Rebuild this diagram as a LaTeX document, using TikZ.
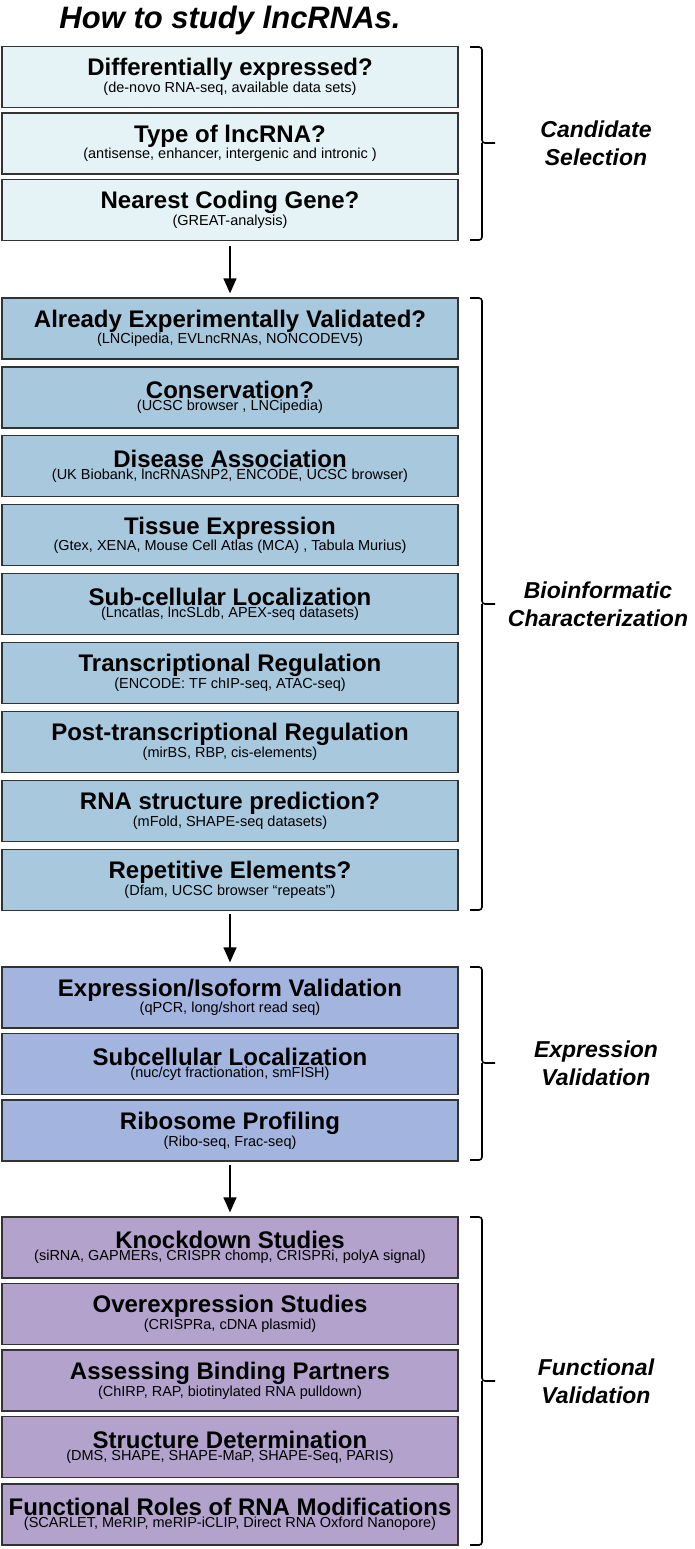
\documentclass[tikz,border=0pt]{standalone}
\usepackage{fontspec}
\setmainfont{Liberation Sans}
\usepackage{tikz}
\usetikzlibrary{positioning,arrows.meta}

\definecolor{candcol}{HTML}{E5F3F7}
\definecolor{bioicol}{HTML}{A8C8DE}
\definecolor{exprcol}{HTML}{A3B5DF}
\definecolor{funccol}{HTML}{B3A2CB}

\newcommand{\stepbox}[2]{\fontsize{24}{22}\selectfont\bfseries #1\\{\fontsize{14.5}{22}\selectfont\mdseries #2}}

\tikzset{
  stepnode/.style={rectangle,draw=black!80,line width=1.3pt,minimum width=456pt,minimum height=61pt,align=center,inner sep=0pt},
  cand/.style={stepnode,fill=candcol},
  bioi/.style={stepnode,fill=bioicol},
  expr/.style={stepnode,fill=exprcol},
  func/.style={stepnode,fill=funccol},
  flow/.style={line width=1.3pt,-{Triangle[width=13pt,length=15pt]}},
  brack/.style={line width=1.6pt,rounded corners=3pt},
  phase/.style={align=center,font=\fontsize{23}{28}\selectfont\bfseries\itshape}
}

\begin{document}
\begin{tikzpicture}[x=1pt,y=-1pt]
      \useasboundingbox (0,0) rectangle (694,1549);
      \node[font=\fontsize{31}{33}\selectfont\bfseries\itshape] (title) at (230,20) {How to study lncRNAs.};

      % Candidate selection
      \node[cand] (diffexp) at (230,77) {\stepbox{Differentially expressed?}{(de-novo RNA-seq, available data sets)}};
      \node[cand] (lnctype) at (230,143.5) {\stepbox{Type of lncRNA?}{(antisense, enhancer, intergenic and intronic )}};
      \node[cand] (neargene) at (230,210) {\stepbox{Nearest Coding Gene?}{(GREAT-analysis)}};

      % Bioinformatic characterization
      \node[bioi] (validated) at (230,328.5) {\stepbox{Already Experimentally Validated?}{(LNCipedia, EVLncRNAs, NONCODEV5)}};
      \node[bioi] (conserv) at (230,397.4) {\stepbox{Conservation?}{(UCSC browser , LNCipedia)}};
      \node[bioi] (disease) at (230,466.3) {\stepbox{Disease Association}{(UK Biobank, lncRNASNP2, ENCODE, UCSC browser)}};
      \node[bioi] (tissue) at (230,535.2) {\stepbox{Tissue Expression}{(Gtex, XENA, Mouse Cell Atlas (MCA) , Tabula Murius)}};
      \node[bioi] (subloc) at (230,604.1) {\stepbox{Sub-cellular Localization}{(Lncatlas, lncSLdb, APEX-seq datasets)}};
      \node[bioi] (transreg) at (230,673) {\stepbox{Transcriptional Regulation}{(ENCODE: TF chIP-seq, ATAC-seq)}};
      \node[bioi] (postreg) at (230,741.9) {\stepbox{Post-transcriptional Regulation}{(mirBS, RBP, cis-elements)}};
      \node[bioi] (structpred) at (230,810.8) {\stepbox{RNA structure prediction?}{(mFold, SHAPE-seq datasets)}};
      \node[bioi] (repeats) at (230,879.7) {\stepbox{Repetitive Elements?}{(Dfam, UCSC browser “repeats”)}};

      % Expression validation
      \node[expr] (isoform) at (230,997.5) {\stepbox{Expression/Isoform Validation}{(qPCR, long/short read seq)}};
      \node[expr] (subcell) at (230,1064) {\stepbox{Subcellular Localization}{(nuc/cyt fractionation, smFISH)}};
      \node[expr] (ribo) at (230,1130.5) {\stepbox{Ribosome Profiling}{(Ribo-seq, Frac-seq)}};

      % Functional validation
      \node[func] (knockdown) at (230,1247.5) {\stepbox{Knockdown Studies}{(siRNA, GAPMERs, CRISPR chomp, CRISPRi, polyA signal)}};
      \node[func] (overexp) at (230,1314) {\stepbox{Overexpression Studies}{(CRISPRa, cDNA plasmid)}};
      \node[func] (binding) at (230,1380.5) {\stepbox{Assessing Binding Partners}{(ChIRP, RAP, biotinylated RNA pulldown)}};
      \node[func] (structdet) at (230,1447) {\stepbox{Structure Determination}{(DMS, SHAPE, SHAPE-MaP, SHAPE-Seq, PARIS)}};
      \node[func] (modif) at (230,1514.5) {\stepbox{Functional Roles of RNA Modifications}{(SCARLET, MeRIP, meRIP-iCLIP, Direct RNA Oxford Nanopore)}};

      \draw[flow] ([yshift=-5pt]neargene.south) -- ([yshift=4pt]validated.north);
      \draw[flow] ([yshift=-3pt]repeats.south) -- ([yshift=4pt]isoform.north);
      \draw[flow] ([yshift=-3pt]ribo.south) -- ([yshift=4pt]knockdown.north);

      % brackets
      \draw[brack] (470,47) -- (482,47) -- (482,143) -- (495,143) (482,143) -- (482,240) -- (470,240);
      \draw[brack] (470,298) -- (482,298) -- (482,604) -- (495,604) (482,604) -- (482,910) -- (470,910);
      \draw[brack] (470,967) -- (482,967) -- (482,1063) -- (495,1063) (482,1063) -- (482,1160) -- (470,1160);
      \draw[brack] (470,1217) -- (482,1217) -- (482,1381) -- (495,1381) (482,1381) -- (482,1545) -- (470,1545);

      \node[phase] (candlab) at (596,143) {Candidate\\Selection};
      \node[phase] (bioilab) at (598,604) {Bioinformatic\\Characterization};
      \node[phase] (exprlab) at (596,1063) {Expression\\Validation};
      \node[phase] (funclab) at (596,1381) {Functional\\Validation};
\end{tikzpicture}
\end{document}
